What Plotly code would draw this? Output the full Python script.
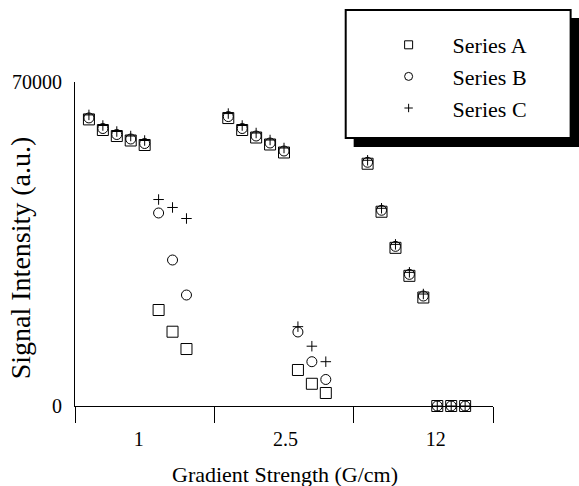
import plotly.graph_objects as go

# ---- data ----
categories = ["1", "2.5", "12"]
category_label_pos = [4.57, 15.1, 25.9]
group_bounds = [0, 10, 20, 30]
points_per_group = 8

series_names = ["Series A", "Series B", "Series C"]
series_a = [61920, 59630, 58330, 57360, 56390, 20740, 16050, 12310,
            62210, 59630, 58010, 56500, 54770, 7780, 4800, 2810,
            52340, 41970, 34170, 28120, 23440, 0, 0, 0]
series_b = [62240, 59950, 58650, 57680, 56710, 41700, 31540, 23980,
            62530, 59950, 58330, 56820, 55090, 15990, 9570, 5730,
            52660, 42290, 34490, 28440, 23760, 0, 0, 0]
series_c = [62890, 60600, 59300, 58330, 57360, 44610, 42890, 40510,
            63180, 60600, 58980, 57470, 55740, 17140, 12920, 9570,
            53090, 42720, 34920, 28870, 24190, 0, 0, 0]
y_tickvals = [0, 70000]
y_ticktext = ["0", "70000"]

# slot index of each point inside its category group
x_slots = [g * 10 + j for g in range(len(categories)) for j in range(1, points_per_group + 1)]

FONT = "Liberation Serif, Times New Roman, serif"
W, H = 579, 486
ML, MR, MT, MB = 73, 86, 82, 80
PW, PH = W - ML - MR, H - MT - MB


def px_x(p):
    return (p - ML) / PW


def px_y(p):
    return (H - MB - p) / PH


symbols = ["square-open", "circle-open", "cross-thin-open"]
sizes = [11, 10, 7.5]
leg_sizes = [8, 8, 6]
all_series = [series_a, series_b, series_c]

fig = go.Figure()
for name, vals, sym, sz in zip(series_names, all_series, symbols, sizes):
    fig.add_trace(go.Scatter(
        x=x_slots, y=vals, mode="markers", name=name, showlegend=False,
        cliponaxis=False,
        marker=dict(symbol=sym, size=sz, color="black",
                    line=dict(color="black", width=1)),
    ))
for name, sym, sz in zip(series_names, symbols, leg_sizes):
    fig.add_trace(go.Scatter(
        x=[None], y=[None], mode="markers", name=name, showlegend=True,
        marker=dict(symbol=sym, size=sz, color="black",
                    line=dict(color="black", width=1)),
    ))

shapes = [
    # legend shadow
    dict(type="rect", xref="paper", yref="paper",
         x0=px_x(353), x1=px_x(580), y0=px_y(147), y1=px_y(18),
         fillcolor="black", line=dict(width=0), layer="above"),
    # legend box
    dict(type="rect", xref="paper", yref="paper",
         x0=px_x(345), x1=px_x(571), y0=px_y(138), y1=px_y(10),
         fillcolor="white", line=dict(color="black", width=2), layer="above"),
]

annotations = [
    dict(text="Gradient Strength (G/cm)", xref="paper", yref="paper",
         x=px_x(284.5), y=px_y(474), xanchor="center", yanchor="middle",
         showarrow=False, font=dict(family=FONT, size=22, color="black")),
    dict(text="Signal Intensity (a.u.)", xref="paper", yref="paper",
         x=px_x(18), y=px_y(258), xanchor="center", yanchor="middle",
         textangle=-90, showarrow=False,
         font=dict(family=FONT, size=28, color="black")),
]

fig.update_layout(
    width=W, height=H,
    margin=dict(l=ML, r=MR, t=MT, b=MB, pad=0),
    paper_bgcolor="white", plot_bgcolor="white",
    font=dict(family=FONT, color="black"),
    shapes=shapes, annotations=annotations,
    showlegend=True,
    legend=dict(x=px_x(364), y=px_y(24), xanchor="left", yanchor="top",
                bgcolor="rgba(0,0,0,0)", borderwidth=0,
                itemwidth=78, font=dict(family=FONT, size=22, color="black")),
    xaxis=dict(range=[0, 30], tickmode="array", tickvals=category_label_pos,
               ticktext=categories, ticks="", showgrid=False, zeroline=False,
               showline=True, linecolor="black", linewidth=1,
               ticklabelstandoff=15,
               tickfont=dict(family=FONT, size=20, color="black"),
               minor=dict(tickmode="array", tickvals=group_bounds, ticks="outside",
                          ticklen=16, tickwidth=1, tickcolor="black", showgrid=False)),
    yaxis=dict(range=[0, 70000], tickmode="array", tickvals=y_tickvals,
               ticktext=y_ticktext, ticks="", showgrid=False, zeroline=False,
               showline=True, linecolor="black", linewidth=1,
               ticklabelstandoff=8,
               tickfont=dict(family=FONT, size=20, color="black")),
)

fig.write_html("out.html")
